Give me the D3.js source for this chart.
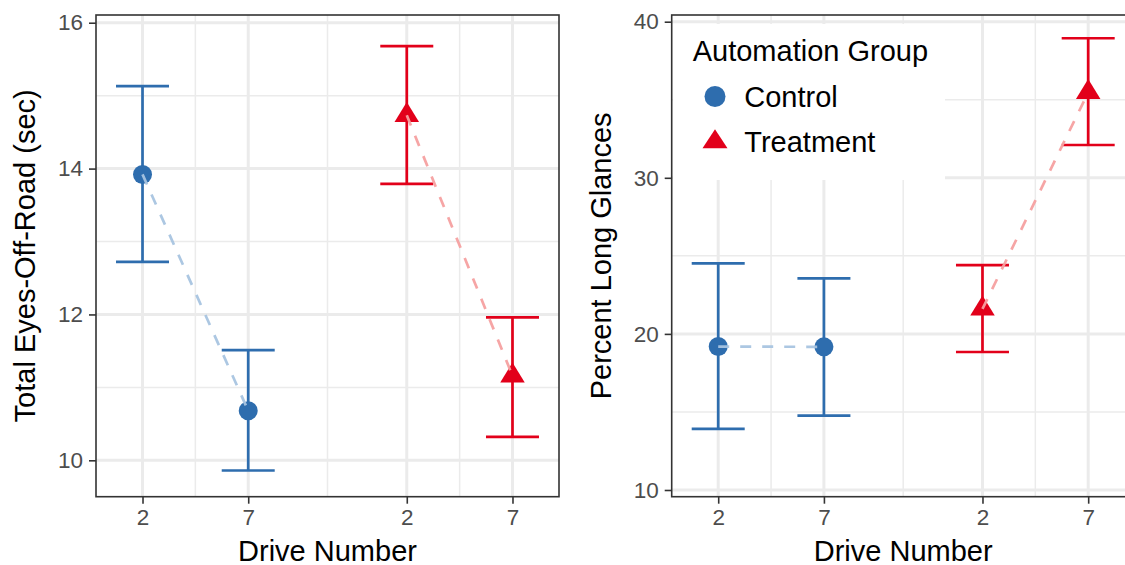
<!DOCTYPE html>
<html>
<head>
<meta charset="utf-8">
<script src="https://cdn.jsdelivr.net/npm/d3@7"></script>
<style>
  body { margin: 0; background: #fff; }
  svg { font-family: "Liberation Sans", Arial, sans-serif; display: block; }
</style>
</head>
<body>
<div class="chart"></div>
<script>
// data
const groups = ["Control", "Treatment"];
const drives = [2, 7];

const eyesMean = [[13.92, 10.68], [14.73, 11.16]];
const eyesLow  = [[12.72, 9.86],  [13.79, 10.32]];
const eyesHigh = [[15.13, 11.51], [15.68, 11.96]];
const eyesTicks = [10, 12, 14, 16];

const longMean = [[19.19, 19.17], [21.6, 35.47]];
const longLow  = [[13.91, 14.76], [18.84, 32.1]];
const longHigh = [[24.52, 23.56], [24.41, 38.94]];
const longTicks = [10, 20, 30, 40];

const colors = ["#2E6DAE", "#E2001A"];
const lineColors = ["#A8C4E0", "#F6A0A0"];

const W = 1125, H = 565;
const plotTop = 15, plotBottom = 496.7, panelW = 463;

const svg = d3.select(".chart").append("svg")
    .attr("width", W)
    .attr("height", H);

// x position of a drive inside a group (groups are spread apart)
function xPos(gi, di) { return gi * 2.5 + di + 1; }

function triangle(w, h) {
    return "M0," + (-2 * h / 3) + "L" + (w / 2) + "," + (h / 3) + "L" + (-w / 2) + "," + (h / 3) + "Z";
}

function panel(left, yDomain, ticks, minor, mean, low, high, yTitle) {
    const g = svg.append("g");

    const x = d3.scaleLinear().domain([0.56, 4.94]).range([left, left + panelW]);
    const y = d3.scaleLinear().domain(yDomain).range([plotBottom, plotTop]);

    const majorX = [];
    groups.forEach((grp, gi) => drives.forEach((d, di) => majorX.push(xPos(gi, di))));
    const minorX = [1.5, 2.75, 4.0];

    const grid = g.append("g");
    grid.selectAll(".minx").data(minorX).enter().append("line")
        .attr("x1", d => x(d)).attr("x2", d => x(d))
        .attr("y1", plotTop).attr("y2", plotBottom)
        .attr("stroke", "#EBEBEB").attr("stroke-width", 1.5);
    grid.selectAll(".miny").data(minor).enter().append("line")
        .attr("x1", left).attr("x2", left + panelW)
        .attr("y1", d => y(d)).attr("y2", d => y(d))
        .attr("stroke", "#EBEBEB").attr("stroke-width", 1.5);
    grid.selectAll(".majx").data(majorX).enter().append("line")
        .attr("x1", d => x(d)).attr("x2", d => x(d))
        .attr("y1", plotTop).attr("y2", plotBottom)
        .attr("stroke", "#EBEBEB").attr("stroke-width", 3);
    grid.selectAll(".majy").data(ticks).enter().append("line")
        .attr("x1", left).attr("x2", left + panelW)
        .attr("y1", d => y(d)).attr("y2", d => y(d))
        .attr("stroke", "#EBEBEB").attr("stroke-width", 3);

    const rows = [];
    groups.forEach((grp, gi) => drives.forEach((d, di) => rows.push({
        gi: gi, di: di, x: xPos(gi, di),
        m: mean[gi][di], lo: low[gi][di], hi: high[gi][di]
    })));

    // error bars
    const eb = g.selectAll(".eb").data(rows).enter().append("g")
        .attr("stroke", d => colors[d.gi]).attr("stroke-width", 2.7).attr("fill", "none");
    eb.append("line")
        .attr("x1", d => x(d.x)).attr("x2", d => x(d.x))
        .attr("y1", d => y(d.lo)).attr("y2", d => y(d.hi));
    eb.append("line")
        .attr("x1", d => x(d.x) - 26.5).attr("x2", d => x(d.x) + 26.5)
        .attr("y1", d => y(d.lo)).attr("y2", d => y(d.lo));
    eb.append("line")
        .attr("x1", d => x(d.x) - 26.5).attr("x2", d => x(d.x) + 26.5)
        .attr("y1", d => y(d.hi)).attr("y2", d => y(d.hi));

    // points
    g.selectAll(".pt").data(rows).enter().append("path")
        .attr("transform", d => "translate(" + x(d.x) + "," + y(d.m) + ")")
        .attr("d", d => d.gi === 0 ? d3.symbol(d3.symbolCircle, Math.PI * 9.5 * 9.5)() : triangle(24.5, 20))
        .attr("fill", d => colors[d.gi]);

    // dashed connecting lines
    const line = d3.line().x(d => x(d.x)).y(d => y(d.m));
    groups.forEach((grp, gi) => {
        g.append("path")
            .datum(rows.filter(r => r.gi === gi))
            .attr("d", line)
            .attr("fill", "none")
            .attr("stroke", lineColors[gi])
            .attr("stroke-opacity", 0.95)
            .attr("stroke-width", 2.7)
            .attr("stroke-dasharray", "11,11");
    });

    // border
    g.append("rect")
        .attr("x", left).attr("y", plotTop)
        .attr("width", panelW).attr("height", plotBottom - plotTop)
        .attr("fill", "none").attr("stroke", "#333333").attr("stroke-width", 1.6);

    // y axis
    const yAxis = d3.axisLeft(y).tickValues(ticks).tickSize(7).tickPadding(6).tickFormat(d3.format("d"));
    const ya = g.append("g").attr("transform", "translate(" + left + ",0)").call(yAxis);
    ya.select(".domain").remove();
    ya.selectAll("line").attr("stroke", "#333333").attr("stroke-width", 1.6);
    ya.selectAll("text").attr("fill", "#4D4D4D").style("font-size", "22.5px")
        .style("font-family", "Liberation Sans, Arial, sans-serif");

    // x axis
    const xAxis = d3.axisBottom(x).tickValues(majorX).tickSize(7).tickPadding(5)
        .tickFormat(v => drives[majorX.indexOf(v) % 2]);
    const xa = g.append("g").attr("transform", "translate(0," + plotBottom + ")").call(xAxis);
    xa.select(".domain").remove();
    xa.selectAll("line").attr("stroke", "#333333").attr("stroke-width", 1.6);
    xa.selectAll("text").attr("fill", "#4D4D4D").style("font-size", "22.5px")
        .style("font-family", "Liberation Sans, Arial, sans-serif");

    g.append("text")
        .attr("x", left + panelW / 2).attr("y", 560.5)
        .attr("text-anchor", "middle")
        .style("font-size", "29px")
        .text("Drive Number");

    g.append("text")
        .attr("transform", "translate(" + (left - 61) + "," + ((plotTop + plotBottom) / 2) + ") rotate(-90)")
        .attr("text-anchor", "middle")
        .style("font-size", "29px")
        .text(yTitle);

    return g;
}

panel(96, [9.501, 16.106], eyesTicks, [11, 13, 15], eyesMean, eyesLow, eyesHigh, "Total Eyes-Off-Road (sec)");
panel(671.7, [9.57, 40.43], longTicks, [15, 25, 35], longMean, longLow, longHigh, "Percent Long Glances");

// legend inside the right panel
const leg = svg.append("g");
leg.append("rect")
    .attr("x", 673).attr("y", 24)
    .attr("width", 272).attr("height", 156)
    .attr("fill", "#fff");
leg.append("text")
    .attr("x", 692.7).attr("y", 61)
    .style("font-size", "29px")
    .text("Automation Group");
groups.forEach((grp, gi) => {
    const cy = 96.5 + gi * 45.5;
    leg.append("path")
        .attr("transform", "translate(715," + cy + ")")
        .attr("d", gi === 0 ? d3.symbol(d3.symbolCircle, Math.PI * 10.5 * 10.5)() : triangle(25, 19))
        .attr("fill", colors[gi]);
    leg.append("text")
        .attr("x", 744.3).attr("y", cy + 10)
        .style("font-size", "29px")
        .text(grp);
});
</script>
</body>
</html>
